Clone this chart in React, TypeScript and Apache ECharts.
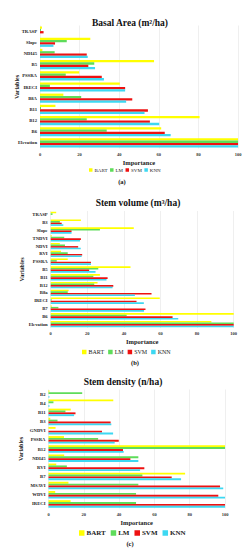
import React, { useEffect, useRef } from "react";
import * as echarts from "echarts";

const seriesNames = ["BART", "LM", "SVM", "KNN"];
const colors = ["#ffff00", "#5edc5a", "#ee1111", "#3dd8f2"];

const catsA = ["Elevation", "B6", "B12", "B11", "B8A", "IRECI", "PSSRA", "B5", "NDI45", "Slope", "TRASP"];
const bartA = [100, 61.2, 80.6, 7.8, 11.8, 40.3, 19.8, 57.6, 1.2, 25.4, 1.0];
const lmA = [100, 33.7, 23.6, 0.5, 20.8, 5, 13, 27.4, 7.4, 13.5, 0.5];
const svmA = [100, 63, 55.5, 54.5, 46.6, 43, 31.2, 24.4, 23.6, 7.6, 1.8];
const knnA = [100, 66, 60.2, 52.8, 43.5, 43, 32.3, 27.8, 24.1, 6.8, 0];

const catsB = ["Elevation", "B6", "B7", "IRECI", "B8a", "B12", "B11", "B5", "PSSRA", "RVI", "NDVI", "TNDVI", "Slope", "B3", "TRASP"];
const bartB = [87.8, 100, 0.5, 59.6, 9.8, 25.6, 26.9, 43.6, 9.3, 5.6, 5, 0.5, 45.4, 16.5, 3];
const lmB = [100, 41.5, 4.2, 0.5, 9.3, 23.8, 23.3, 26, 3.3, 9.3, 7.8, 7.4, 26.9, 5, 1];
const svmB = [100, 66.6, 51.8, 46.9, 55.1, 34.2, 31.1, 21, 22, 17.2, 15, 16.5, 11.4, 6, 0];
const knnB = [100, 69.7, 51, 50.9, 46, 33.8, 30.5, 24.5, 22, 16.9, 16.4, 16, 11.4, 6.9, 0];

const catsC = ["IRECI", "WDVI", "MSAVI", "B7", "RVI", "NDI45", "B12", "PSSRA", "GNDVI", "B3", "B11", "B4", "B2"];
const bartC = [12.5, 3.8, 11.3, 77.4, 4.4, 8.9, 100, 8.8, 4, 1, 12.6, 36.7, 0.5];
const lmC = [49.6, 49.6, 50.9, 53.2, 10.4, 50.9, 100, 28.1, 0, 5.1, 9.6, 2.8, 19.1];
const svmC = [100, 96.2, 97.2, 69.8, 54.3, 46.4, 42.2, 39.8, 30.3, 35.2, 15.3, 0, 0];
const knnC = [100, 100, 99, 75.1, 51.9, 50.9, 42.6, 37.5, 36.6, 35.6, 14.5, 0.5, 0.5];

const titles = ["Basal Area (m²/ha)", "Stem volume (m³/ha)", "Stem density (n/ha)"];
const panelLabels = ["(a)", "(b)", "(c)"];

const FONT = "Liberation Serif";

export default function App() {
  const ref = useRef<HTMLDivElement>(null);
  useEffect(() => {
    if (!ref.current) return;
    const chart = echarts.init(ref.current, null, { renderer: "svg" });

    const panels = [
      { cats: catsA, data: [bartA, lmA, svmA, knnA], grid: { left: 40, top: 25.5, width: 198, height: 123 }, titleX: 130, titleY: 17.5, legendX: 89, legendY: 167.5, legendFont: 5, legendGap: 2.5, labelY: 181, labelX: 122, yNameGap: 20 },
      { cats: catsB, data: [bartB, lmB, svmB, knnB], grid: { left: 50.7, top: 211, width: 183, height: 117 }, titleX: 138, titleY: 197.5, legendX: 82, legendY: 349, legendFont: 6, legendGap: 4, labelY: 362, labelX: 135, yNameGap: 26 },
      { cats: catsC, data: [bartC, lmC, svmC, knnC], grid: { left: 48.5, top: 389.5, width: 176.5, height: 119 }, titleX: 123, titleY: 377, legendX: 79, legendY: 529.5, legendFont: 7, legendGap: 5, labelY: 543, labelX: 130, yNameGap: 25 },
    ];

    const grid: any[] = [];
    const xAxis: any[] = [];
    const yAxis: any[] = [];
    const series: any[] = [];
    const title: any[] = [];
    const legend: any[] = [];
    const graphic: any[] = [];

    panels.forEach((p, i) => {
      grid.push({ ...p.grid, containLabel: false });
      xAxis.push({
        type: "value",
        gridIndex: i,
        min: 0,
        max: 100,
        interval: 20,
        axisLine: { show: false },
        axisTick: { show: false },
        splitLine: { show: true, lineStyle: { color: "#e4e4e4", width: 0.6 } },
        axisLabel: { fontSize: 4.5, color: "#333", fontFamily: FONT, fontWeight: "bold", margin: 3 },
        name: "Importance",
        nameLocation: "middle",
        nameGap: 10,
        nameMoveOverlap: false,
        nameTextStyle: { fontSize: 6.5, fontWeight: "bold", fontFamily: FONT, color: "#222" },
      });
      yAxis.push({
        type: "category",
        gridIndex: i,
        data: p.cats,
        axisLine: { show: false },
        axisTick: { show: false },
        axisLabel: { fontSize: 4.7, color: "#222", fontFamily: FONT, fontWeight: "bold", margin: 3 },
        name: "Variables",
        nameLocation: "middle",
        nameGap: p.yNameGap,
        nameRotate: 90,
        nameMoveOverlap: false,
        nameTextStyle: { fontSize: 6, fontWeight: "bold", fontFamily: FONT, color: "#222" },
      });
      seriesNames.forEach((n, k) => {
        series.push({
          type: "bar",
          name: n,
          xAxisIndex: i,
          yAxisIndex: i,
          data: p.data[k],
          itemStyle: { color: colors[k] },
          barGap: "0%",
          barCategoryGap: "18%",
        });
      });
      title.push({
        text: titles[i],
        left: p.titleX,
        top: p.titleY,
        textAlign: "center",
        textStyle: { fontSize: 9.5, fontWeight: "bold", fontFamily: FONT, color: "#111" },
        padding: 0,
      });
      legend.push({
        data: seriesNames,
        left: p.legendX,
        top: p.legendY,
        itemWidth: p.legendFont - 1.5,
        itemHeight: p.legendFont - 1.5,
        itemGap: p.legendGap,
        icon: "rect",
        padding: 0,
        textStyle: { fontSize: p.legendFont, fontFamily: FONT, fontWeight: i === 2 ? "bold" : "normal", color: "#222", padding: [0, 0, 0, -3] },
      });
      graphic.push({
        type: "text",
        x: p.labelX,
        y: p.labelY,
        style: { text: panelLabels[i], fontSize: 6.5, fontWeight: "bold", fontFamily: FONT, fill: "#111", align: "center", verticalAlign: "middle" },
      });
    });

    chart.setOption({
      animation: false,
      backgroundColor: "#fff",
      color: colors,
      title,
      legend,
      grid,
      xAxis,
      yAxis,
      series,
      graphic,
    });
    return () => chart.dispose();
  }, []);
  return <div ref={ref} style={{ position: "fixed", left: 0, top: 0, width: 245, height: 550 }} />;
}
